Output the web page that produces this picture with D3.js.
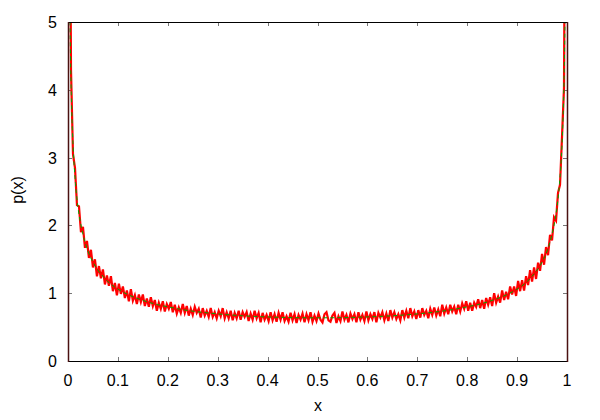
<!DOCTYPE html>
<html><head><meta charset="utf-8">
<script src="https://cdn.jsdelivr.net/npm/d3@7"></script>
<style>body{margin:0;background:#fff}svg{display:block}text{font-family:"Liberation Sans",Arial,sans-serif;fill:#000}</style>
</head><body><svg id="c" width="600" height="420"></svg>
<script>
// x tick labels
const xTicks = [0,0.1,0.2,0.3,0.4,0.5,0.6,0.7,0.8,0.9,1];
const xTickLabels = ["0","0.1","0.2","0.3","0.4","0.5","0.6","0.7","0.8","0.9","1"];
const yTicks = [0,1,2,3,4,5];
// histogram: 250 bins of width 0.004 on [0,1]
const binWidth = 0.004;
const histLeft = [9.95,4.30,3.05,2.85,2.30,2.28,1.90,1.98,1.67,1.77,1.52,1.64,1.38,1.50,1.25,1.40,1.22,1.35,1.13,1.26,
1.11,1.25,1.03,1.15,0.97,1.14,0.99,1.10,0.93,1.04,0.88,1.06,0.89,0.97,0.84,0.98,0.87,0.98,0.81,0.92,
0.80,0.94,0.81,0.90,0.74,0.86,0.77,0.88,0.73,0.84,0.77,0.87,0.72,0.83,0.70,0.79,0.71,0.84,0.71,0.81,
0.67,0.77,0.68,0.80,0.71,0.77,0.64,0.78,0.67,0.74,0.65,0.78,0.65,0.72,0.63,0.74,0.66,0.78,0.63,0.72,
0.63,0.74,0.60,0.71,0.63,0.74,0.61,0.72,0.65,0.72,0.59,0.70,0.61,0.74,0.63,0.71,0.57,0.71,0.61,0.68,
0.59,0.72,0.60,0.69,0.58,0.71,0.61,0.72,0.59,0.66,0.58,0.71,0.60,0.69,0.56,0.68,0.61,0.70,0.57,0.69,
0.60,0.72,0.58,0.67,0.59];
const histRight = [0.70,0.61,0.57,0.69,0.72,0.60,0.58,0.67,0.71,0.56,0.66,0.59,0.73,0.61,0.68,
0.57,0.70,0.62,0.69,0.57,0.72,0.61,0.68,0.59,0.73,0.60,0.69,0.62,0.72,0.57,0.71,0.64,0.72,0.60,0.70,
0.59,0.75,0.64,0.72,0.62,0.69,0.60,0.75,0.64,0.74,0.63,0.78,0.66,0.73,0.62,0.75,0.64,0.78,0.68,0.74,
0.63,0.77,0.68,0.79,0.67,0.76,0.66,0.83,0.70,0.79,0.69,0.83,0.73,0.80,0.69,0.83,0.73,0.85,0.77,0.88,
0.74,0.86,0.74,0.86,0.80,0.91,0.78,0.90,0.77,0.93,0.83,0.94,0.81,1.00,0.86,0.95,0.86,1.04,0.90,1.02,
0.91,1.10,0.98,1.10,0.96,1.18,1.03,1.19,1.04,1.25,1.12,1.34,1.17,1.38,1.21,1.45,1.33,1.58,1.42,1.68,
1.56,1.86,1.78,2.12,2.07,2.48,2.60,3.31,4.03,10.2];
const histValues = histLeft.concat(histRight);
// exact density p(x) read at these x positions
const curveX = [0.001,0.002,0.003,0.004,0.006,0.008,0.01,0.015,0.02,0.025,0.03,0.04,0.05,0.06,0.07,0.08,0.09,0.1,0.12,0.14,0.16,0.18,0.2,0.22,0.25,0.3,0.35,0.4,0.45,0.5,
0.55,0.6,0.65,0.7,0.75,0.78,0.8,0.82,0.84,0.86,0.88,0.9,0.91,0.92,0.93,0.94,0.95,0.96,0.97,0.975,0.98,0.985,0.99,0.992,0.994,0.996,0.997,0.998,0.999];
const curveY = [10.07,7.13,5.82,5.04,4.12,3.57,3.20,2.62,2.27,2.04,1.87,1.62,1.46,1.34,1.25,1.17,1.11,1.06,0.98,0.92,0.87,0.83,0.80,0.77,0.735,0.695,0.667,0.650,0.640,0.637,
0.640,0.650,0.667,0.695,0.735,0.77,0.80,0.83,0.87,0.92,0.98,1.06,1.11,1.17,1.25,1.34,1.46,1.62,1.87,2.04,2.27,2.62,3.20,3.57,4.12,5.04,5.82,7.13,10.07];

const svg = d3.select("#c");
const L=68, R=567, T=22, B=361;
const x = d3.scaleLinear().domain([0,1]).range([L,R]);
const y = d3.scaleLinear().domain([0,5]).range([B,T]);

svg.append("clipPath").attr("id","clip").append("rect").attr("x",L).attr("y",T).attr("width",R-L).attr("height",B-T);

// ticks (inward, mirrored)
const tk = svg.append("g").attr("stroke","#777").attr("stroke-width",1);
xTicks.forEach(t=>{
  const px = Math.round(x(t))+0.5;
  tk.append("line").attr("x1",px).attr("x2",px).attr("y1",B).attr("y2",B-4);
  tk.append("line").attr("x1",px).attr("x2",px).attr("y1",T).attr("y2",T+4);
});
yTicks.forEach(t=>{
  const py = Math.round(y(t))+0.5;
  tk.append("line").attr("x1",L).attr("x2",L+4).attr("y1",py).attr("y2",py);
  tk.append("line").attr("x1",R).attr("x2",R-4).attr("y1",py).attr("y2",py);
});

const g = svg.append("g").attr("clip-path","url(#clip)");
const histLine = d3.line().x((d,i)=>x((i+0.5)*binWidth)).y(d=>y(d));
g.append("path").datum(histValues).attr("d",histLine).attr("fill","none").attr("stroke","#ff0000").attr("stroke-width",2.2).attr("stroke-linejoin","miter");

const cl = d3.line().x((d,i)=>x(curveX[i])).y(d=>y(d)).curve(d3.curveMonotoneX);
g.append("path").datum(curveY).attr("d",cl).attr("fill","none").attr("stroke","#00a800").attr("stroke-width",1).attr("stroke-dasharray","4,3");

// frame
svg.append("line").attr("x1",L).attr("x2",R).attr("y1",T+0.5).attr("y2",T+0.5).attr("stroke","#000");
svg.append("line").attr("x1",L).attr("x2",R).attr("y1",B+0.5).attr("y2",B+0.5).attr("stroke","#000");
svg.append("line").attr("x1",L+0.5).attr("x2",L+0.5).attr("y1",T).attr("y2",B+1).attr("stroke","#4a1212").attr("stroke-width",1.5);
svg.append("line").attr("x1",R+0.5).attr("x2",R+0.5).attr("y1",T).attr("y2",B+1).attr("stroke","#4a1212").attr("stroke-width",1.5);

// labels
xTicks.forEach((t,i)=>{
  svg.append("text").attr("x",x(t)).attr("y",386).attr("text-anchor","middle").attr("font-size",16).text(xTickLabels[i]);
});
yTicks.forEach(t=>{
  svg.append("text").attr("x",57).attr("y",y(t)+6).attr("text-anchor","end").attr("font-size",16).text(String(t));
});
svg.append("text").attr("x",318).attr("y",411).attr("text-anchor","middle").attr("font-size",16).text("x");
svg.append("text").attr("transform","translate(23,190) rotate(-90)").attr("text-anchor","middle").attr("font-size",16).text("p(x)");
</script></body></html>
